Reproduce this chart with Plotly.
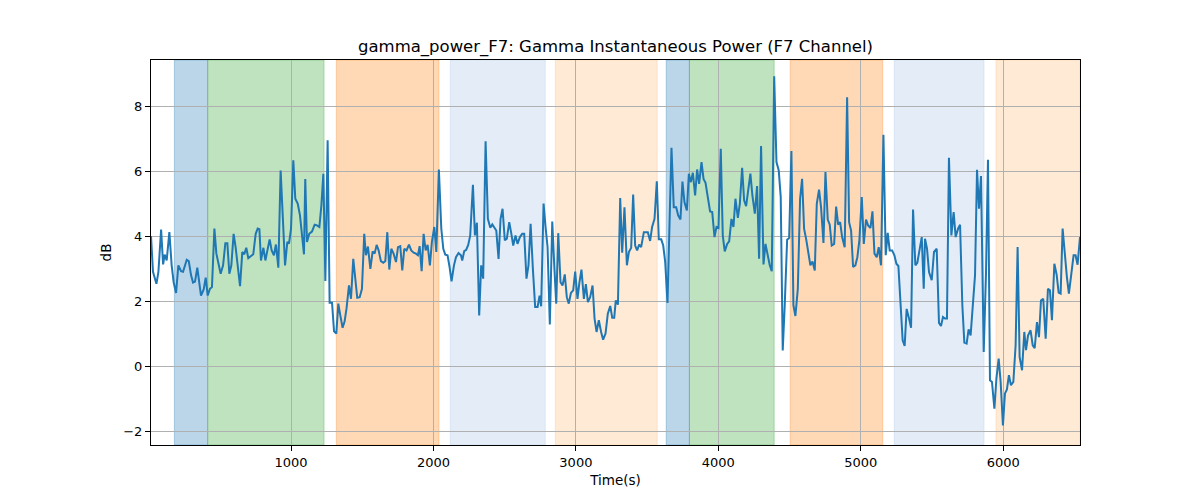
import plotly.graph_objects as go

# Time (s) and gamma power (dB)
time_s = [
    17, 31, 55, 69, 88, 102, 113, 127, 146, 162, 176, 193, 209, 228, 242, 268, 282, 298, 312, 326,
    342, 354, 368, 387, 401, 415, 431, 445, 462, 476, 490, 506, 523, 539, 553, 567, 581, 597, 611, 625,
    642, 658, 672, 686, 700, 717, 735, 752, 766, 778, 789, 806, 820, 836, 850, 864, 880, 894, 911, 927,
    944, 958, 974, 986, 1000, 1016, 1030, 1047, 1063, 1077, 1091,
    1100, 1112, 1128, 1147, 1166, 1182, 1199, 1213, 1227, 1241, 1257, 1271, 1288, 1302, 1318, 1332, 1346,
    1362, 1376, 1390, 1407, 1421, 1437, 1451, 1465, 1482, 1498, 1514, 1526, 1540, 1557, 1573, 1587, 1601,
    1615, 1631, 1648, 1662, 1676, 1690, 1704, 1720, 1737, 1751, 1767, 1781, 1795, 1811, 1828, 1844, 1861,
    1877, 1891, 1903, 1917, 1931, 1945, 1959, 1975, 1989, 2006, 2020, 2038, 2055, 2069, 2083, 2099, 2113,
    2127, 2144, 2158, 2176, 2193,
    2202, 2216, 2230, 2244, 2258, 2277, 2291, 2305, 2321, 2335, 2349, 2366, 2382, 2399, 2413, 2427, 2441,
    2457, 2471, 2485, 2501, 2515, 2532, 2546, 2560, 2576, 2590, 2607, 2623, 2637, 2653, 2667, 2682, 2698,
    2714, 2731, 2745, 2756, 2773, 2787, 2801, 2817, 2834, 2848, 2862, 2876, 2892, 2906, 2922, 2936, 2950,
    2965, 2981, 2995, 3011, 3025, 3039, 3056, 3070, 3084, 3100, 3117, 3131, 3145, 3161, 3177, 3191, 3208,
    3224, 3241, 3255, 3269,
    3280, 3295, 3311, 3325, 3341, 3358, 3372, 3388, 3402, 3416, 3430, 3444, 3458, 3477, 3491, 3505, 3521,
    3535, 3552, 3568, 3582, 3599, 3613, 3627, 3643, 3657, 3671, 3687, 3704, 3718, 3734, 3748, 3762, 3779,
    3793, 3807, 3821, 3837, 3851, 3865, 3882, 3896, 3910, 3926, 3942, 3957, 3973, 3987, 4001, 4017, 4031,
    4045, 4062, 4076, 4092, 4106, 4120, 4137, 4151, 4167, 4181, 4195, 4209, 4225, 4239, 4256, 4272, 4286,
    4300, 4317, 4331, 4347, 4361, 4375,
    4392, 4408, 4424, 4438, 4452, 4466, 4483, 4497, 4513, 4527, 4541, 4558, 4574, 4588, 4602, 4618, 4632,
    4646, 4661, 4677, 4691, 4707, 4721, 4738, 4752, 4768, 4782, 4796, 4813, 4827, 4841, 4855, 4869, 4887,
    4904, 4918, 4932, 4946, 4962, 4976, 4990, 5007, 5021, 5037, 5051, 5068, 5082, 5096, 5112, 5126, 5142,
    5159, 5175, 5189, 5203, 5220, 5236, 5250, 5264, 5278, 5294, 5308, 5322, 5339, 5353, 5367, 5383, 5397,
    5414, 5428, 5442,
    5451, 5465, 5479, 5498, 5514, 5533, 5549, 5563, 5577, 5591, 5605, 5619, 5636, 5652, 5666, 5683, 5697,
    5713, 5727, 5743, 5757, 5771, 5785, 5802, 5816, 5830, 5844, 5863, 5879, 5893, 5907, 5921, 5938, 5952,
    5968, 5982, 5998, 6012, 6026, 6040, 6054, 6071, 6087, 6101, 6115, 6132, 6148, 6160, 6174, 6192, 6207,
    6221, 6237, 6251, 6265, 6281, 6298, 6314, 6328, 6342, 6359, 6375, 6389, 6403, 6417, 6433, 6447, 6461,
    6478, 6494, 6508, 6522, 6539,
]

power_db = [
    4.0, 2.9, 2.53, 2.9, 4.2, 3.13, 3.43, 3.25, 4.12, 3.1, 2.58, 2.25, 3.1, 2.92, 2.9, 3.27, 3.23, 2.8, 2.57, 2.6,
    3.03, 2.58, 2.17, 2.36, 2.72, 2.17, 2.38, 2.43, 4.23, 3.46, 3.15, 2.84, 3.1, 3.78, 3.78, 2.84, 3.1, 4.07, 3.66, 3.1,
    2.46, 3.51, 3.44, 3.64, 3.32, 3.38, 3.44, 4.07, 4.23, 4.21, 3.25, 3.64, 3.25, 3.6, 3.9, 3.56, 3.41, 3.74, 3.03, 6.02,
    4.12, 3.1, 3.82, 3.77, 4.23, 6.33, 5.15, 5.0, 4.64, 3.97, 3.44,
    5.76, 3.82, 4.07, 4.14, 4.35, 4.33, 4.28, 4.94, 5.92, 2.62, 6.95, 1.95, 1.95, 1.07, 1.0, 1.92, 1.56,
    1.18, 1.37, 1.78, 2.48, 2.07, 3.3, 2.62, 2.1, 2.12, 2.38, 4.07, 3.41, 3.68, 2.99, 3.53, 3.46, 3.73,
    3.56, 3.23, 3.18, 3.23, 4.12, 2.97, 3.61, 3.46, 3.2, 3.66, 3.69, 2.94, 3.61, 3.56, 3.74, 3.56, 3.49,
    3.46, 3.41, 3.69, 2.92, 4.07, 3.56, 3.73, 3.1, 3.82, 4.28, 3.51, 6.05, 4.23, 3.61, 3.43, 3.41, 3.05,
    2.61, 3.1, 3.35, 3.48, 3.41,
    3.25, 3.54, 3.58, 3.73, 4.02, 5.58, 4.02, 4.41, 1.56, 3.1, 2.69, 6.92, 4.53, 4.26, 4.36, 4.28, 4.17,
    3.3, 4.53, 4.84, 3.87, 3.92, 4.43, 4.09, 3.71, 4.02, 3.76, 3.97, 4.07, 4.07, 2.69, 3.1, 4.38, 2.99,
    1.82, 1.82, 2.17, 1.84, 5.0, 4.28, 3.66, 1.28, 4.45, 3.1, 1.92, 4.09, 2.58, 2.48, 2.82, 2.12, 1.92,
    2.25, 2.33, 2.91, 2.07, 2.58, 2.97, 2.07, 2.52, 1.97, 2.12, 2.48, 1.46, 1.05, 1.41, 1.05, 0.81, 1.0,
    1.61, 1.85, 1.49, 1.49,
    2.02, 1.89, 5.17, 3.49, 4.89, 3.1, 3.51, 3.64, 5.28, 3.71, 3.56, 3.74, 3.66, 4.12, 4.12, 4.12, 3.85,
    4.28, 4.53, 5.69, 3.9, 3.9, 3.71, 3.2, 1.94, 4.48, 6.72, 4.89, 4.89, 4.64, 4.51, 5.68, 5.05, 4.79,
    5.92, 5.66, 5.95, 5.25, 6.05, 5.61, 6.28, 5.76, 5.64, 5.2, 4.76, 4.74, 3.97, 4.28, 4.25, 6.69, 4.02,
    3.53, 3.76, 3.84, 4.53, 4.28, 5.15, 4.56, 5.0, 6.1, 5.1, 4.92, 5.35, 5.92, 5.25, 4.69, 5.54, 3.3,
    6.77, 3.13, 3.76, 3.35, 3.1, 2.92,
    8.92, 6.28, 6.02, 5.2, 0.48, 1.87, 3.89, 3.94, 6.62, 1.87, 1.54, 2.38, 5.15, 5.76, 4.23, 3.87, 3.46,
    3.1, 3.22, 2.94, 4.99, 5.43, 4.89, 3.79, 5.97, 4.51, 4.35, 3.71, 3.76, 4.91, 4.35, 4.43, 3.97, 3.66,
    8.27, 4.43, 4.17, 3.05, 3.1, 3.35, 3.87, 5.2, 3.76, 4.51, 4.33, 4.25, 4.76, 3.46, 3.35, 3.66, 3.1,
    7.12, 3.41, 4.1, 3.56, 3.56, 3.41, 3.15, 3.08, 1.97, 0.79, 0.62, 1.76, 1.46, 1.18, 4.82, 3.1, 3.18,
    3.68, 3.97, 2.38,
    3.92, 3.61, 2.89, 2.64, 3.51, 3.61, 1.33, 1.23, 1.51, 1.46, 1.46, 6.41, 4.02, 4.74, 3.97, 4.23, 4.35,
    1.87, 0.72, 0.69, 1.13, 0.94, 1.76, 2.79, 6.04, 4.84, 5.85, 0.43, 2.84, 6.35, -0.44, -0.49, -1.31, -0.39,
    0.23, -0.49, -1.83, -0.85, -0.72, -0.28, -0.59, -0.49, 0.64, 3.66, 0.28, -0.13, 1.05, 0.49, 0.94, 1.1, 0.64,
    0.55, 1.35, 0.89, 2.02, 2.07, 0.84, 2.38, 2.33, 1.41, 3.15, 2.81, 2.26, 2.23, 4.23, 3.3, 2.74, 2.23,
    2.87, 3.41, 3.41, 3.12, 3.97,
]

# Shaded state intervals (start, end, colour)
band_starts = [181, 415, 1318, 2118, 2855, 3634, 3797, 4504, 5235, 5949]
band_ends = [415, 1232, 2039, 2785, 3571, 3797, 4392, 5154, 5865, 6539]
band_colors = [
    "rgba(31,119,180,0.3)", "rgba(44,160,44,0.3)", "rgba(255,127,14,0.3)",
    "rgba(174,199,232,0.33)", "rgba(255,187,120,0.3)",
    "rgba(31,119,180,0.3)", "rgba(44,160,44,0.3)", "rgba(255,127,14,0.3)",
    "rgba(174,199,232,0.33)", "rgba(255,187,120,0.3)",
]

x_ticks = [1000, 2000, 3000, 4000, 5000, 6000]
y_ticks = [-2, 0, 2, 4, 6, 8]

fig = go.Figure()
fig.add_trace(go.Scatter(
    x=time_s, y=power_db, mode="lines",
    line=dict(color="#1f77b4", width=2), showlegend=False,
))

for s, e, c in zip(band_starts, band_ends, band_colors):
    fig.add_shape(type="rect", xref="x", yref="paper", x0=s, x1=e, y0=0, y1=1,
                  fillcolor=c, line=dict(color=c, width=1), layer="below")

font = "DejaVu Sans, Arial, sans-serif"
fig.update_layout(
    width=1200, height=500,
    margin=dict(l=151, r=120, t=60, b=55),
    paper_bgcolor="white", plot_bgcolor="white",
    font=dict(family=font, size=13, color="black"),
    title=dict(text="gamma_power_F7: Gamma Instantaneous Power (F7 Channel)",
               x=(151 + 1080) / 2 / 1200, xanchor="center", y=1 - 46 / 500, yanchor="middle",
               font=dict(size=16.5, family=font, color="black")),
)
fig.update_xaxes(
    range=[17, 6539], tickvals=x_ticks, ticktext=[str(v) for v in x_ticks],
    showgrid=True, gridcolor="#b0b0b0", gridwidth=1,
    showline=True, linecolor="black", linewidth=1, mirror=True,
    ticks="outside", ticklen=5, tickcolor="black", zeroline=False,
    title=dict(text="Time(s)", font=dict(size=13.5), standoff=6),
)
fig.update_yaxes(
    range=[-2.43, 9.42], tickvals=y_ticks, ticktext=[str(v) if v >= 0 else "\u2212" + str(-v) for v in y_ticks],
    showgrid=True, gridcolor="#b0b0b0", gridwidth=1,
    showline=True, linecolor="black", linewidth=1, mirror=True,
    ticks="outside", ticklen=5, tickcolor="black", zeroline=False,
    title=dict(text="dB", font=dict(size=13.5), standoff=8),
)

fig.write_html("out.html")
